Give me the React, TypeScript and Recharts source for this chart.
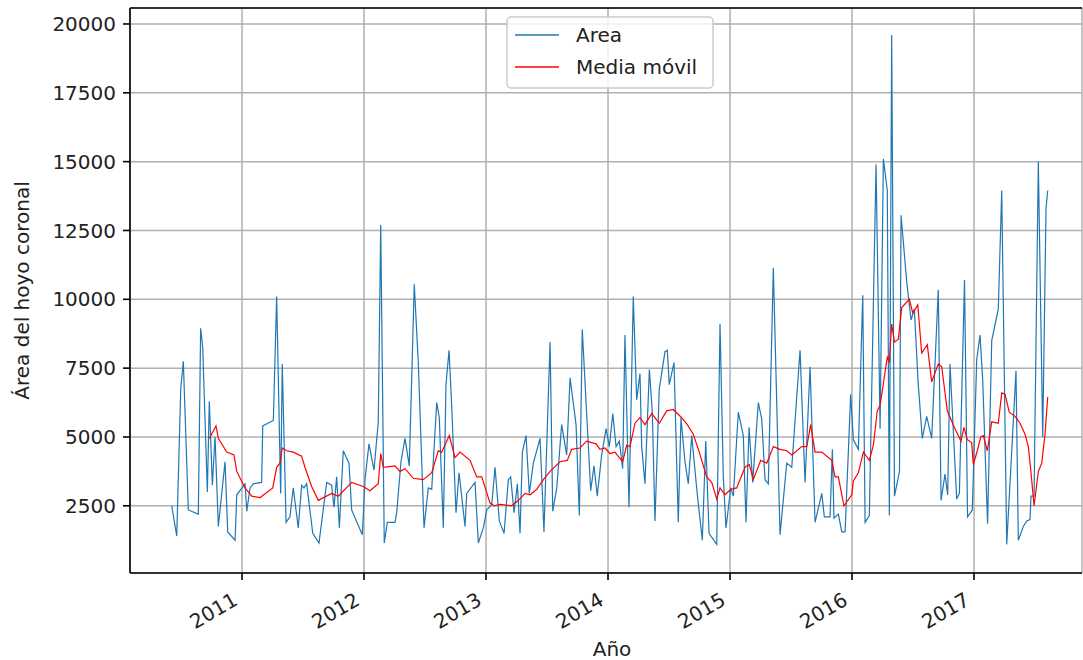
import React from 'react';
import {
  LineChart,
  Line,
  XAxis,
  YAxis,
  CartesianGrid,
  ReferenceLine,
} from 'recharts';

// fechas en años decimales, área del hoyo coronal
const areaYears = [
  2010.424, 2010.465, 2010.498, 2010.519, 2010.56, 2010.642, 2010.661, 2010.678, 2010.716, 2010.732,
  2010.757, 2010.779, 2010.806, 2010.861, 2010.883, 2010.943, 2010.957, 2011.025, 2011.039, 2011.066,
  2011.093, 2011.161, 2011.17, 2011.257, 2011.284, 2011.317, 2011.33, 2011.361, 2011.393, 2011.42,
  2011.461, 2011.489, 2011.508, 2011.53, 2011.58, 2011.631, 2011.694, 2011.735, 2011.754, 2011.776,
  2011.798, 2011.83, 2011.877, 2011.899, 2011.986, 2012.008, 2012.041, 2012.082, 2012.117, 2012.137,
  2012.166, 2012.191, 2012.254, 2012.268, 2012.303, 2012.336, 2012.371, 2012.412, 2012.445, 2012.492,
  2012.527, 2012.555, 2012.596, 2012.617, 2012.65, 2012.672, 2012.697, 2012.719, 2012.754, 2012.779,
  2012.828, 2012.842, 2012.91, 2012.937, 2012.978, 2013.006, 2013.047, 2013.074, 2013.109, 2013.148,
  2013.183, 2013.202, 2013.23, 2013.257, 2013.279, 2013.298, 2013.328, 2013.355, 2013.388, 2013.443,
  2013.475, 2013.525, 2013.547, 2013.58, 2013.62, 2013.661, 2013.689, 2013.738, 2013.765, 2013.789,
  2013.825, 2013.858, 2013.885, 2013.912, 2013.948, 2013.984, 2014.011, 2014.039, 2014.066, 2014.093,
  2014.12, 2014.139, 2014.172, 2014.207, 2014.235, 2014.262, 2014.276, 2014.303, 2014.339, 2014.363,
  2014.385, 2014.42, 2014.467, 2014.486, 2014.502, 2014.541, 2014.576, 2014.598, 2014.631, 2014.658,
  2014.686, 2014.732, 2014.773, 2014.801, 2014.828, 2014.891, 2014.918, 2014.945, 2014.967, 2015.006,
  2015.027, 2015.068, 2015.109, 2015.131, 2015.156, 2015.186, 2015.232, 2015.26, 2015.287, 2015.314,
  2015.355, 2015.41, 2015.465, 2015.506, 2015.574, 2015.615, 2015.656, 2015.697, 2015.752, 2015.773,
  2015.82, 2015.839, 2015.852, 2015.888, 2015.916, 2015.943, 2015.989, 2016.011, 2016.052, 2016.088,
  2016.107, 2016.142, 2016.197, 2016.23, 2016.257, 2016.289, 2016.306, 2016.325, 2016.348, 2016.389,
  2016.402, 2016.448, 2016.484, 2016.511, 2016.543, 2016.576, 2016.612, 2016.653, 2016.707, 2016.73,
  2016.762, 2016.784, 2016.803, 2016.858, 2016.88, 2016.922, 2016.947, 2016.986, 2017.022, 2017.049,
  2017.071, 2017.111, 2017.145, 2017.199, 2017.227, 2017.268, 2017.344, 2017.363, 2017.404, 2017.432,
  2017.459, 2017.467, 2017.492, 2017.527, 2017.563, 2017.59, 2017.604,
];

const areaValues = [
  2500, 1400, 6750, 7750, 2350, 2200, 8950, 8250, 3000, 6300,
  3250, 5000, 1750, 4100, 1550, 1250, 2900, 3300, 2300, 3150,
  3300, 3350, 5400, 5600, 10100, 2950, 7650, 1900, 2100, 3150,
  1700, 3250, 3150, 3300, 1500, 1150, 3350, 3250, 2450, 3550,
  1700, 4500, 4050, 2350, 1450, 3450, 4750, 3800, 5550, 12700,
  1150, 1900, 1900, 2250, 4100, 4950, 3950, 10550, 7700, 1700,
  3150, 3100, 6250, 5700, 1700, 6900, 8150, 6100, 2250, 3700,
  1750, 2950, 3350, 1150, 1700, 2350, 2550, 3900, 1950, 1500,
  3450, 3550, 2250, 3300, 1500, 4450, 5050, 2950, 4050, 4950,
  1550, 8450, 2300, 3150, 5450, 4350, 7150, 5450, 2150, 8900,
  5850, 3050, 3950, 2850, 4350, 5300, 4650, 5850, 4650, 4850,
  3850, 8700, 2450, 10100, 6350, 7300, 4650, 3300, 7450, 5900,
  1950, 6750, 8100, 8150, 6900, 7700, 1900, 5700, 4100, 3300,
  5050, 2900, 1250, 4850, 1500, 1100, 9100, 3550, 1700, 3150,
  2850, 5900, 5050, 1900, 5350, 3350, 6250, 5650, 3450, 3300,
  11150, 1450, 4050, 3900, 8150, 3350, 7550, 1900, 2950, 2100,
  2100, 4550, 2050, 2200, 1550, 1550, 6550, 4900, 4550, 10150,
  1900, 2150, 14900, 5300, 15100, 13950, 2150, 19600, 2850, 3750,
  13050, 10650, 9250, 9650, 6900, 4950, 5750, 4950, 10350, 2700,
  3650, 2900, 7650, 2750, 2950, 10700, 2100, 2350, 7800, 8700,
  7100, 1850, 8500, 9650, 13950, 1100, 7400, 1250, 1750, 1950,
  2000, 2850, 2850, 15000, 5000, 13300, 13950,
];

// media móvil
const mediaYears = [
  2010.732, 2010.787, 2010.806, 2010.875, 2010.934, 2010.957, 2011.025, 2011.08, 2011.148, 2011.252,
  2011.284, 2011.311, 2011.33, 2011.366, 2011.42, 2011.489, 2011.516, 2011.571, 2011.625, 2011.735,
  2011.789, 2011.899, 2011.994, 2012.049, 2012.117, 2012.137, 2012.158, 2012.254, 2012.295, 2012.336,
  2012.404, 2012.486, 2012.555, 2012.609, 2012.637, 2012.699, 2012.746, 2012.787, 2012.869, 2012.924,
  2012.965, 2013.033, 2013.066, 2013.115, 2013.211, 2013.265, 2013.32, 2013.361, 2013.416, 2013.47,
  2013.525, 2013.607, 2013.666, 2013.702, 2013.77, 2013.825, 2013.902, 2013.934, 2013.975, 2014.016,
  2014.057, 2014.084, 2014.12, 2014.153, 2014.18, 2014.221, 2014.262, 2014.303, 2014.358, 2014.42,
  2014.481, 2014.535, 2014.604, 2014.65, 2014.699, 2014.748, 2014.809, 2014.85, 2014.891, 2014.918,
  2014.959, 2015.006, 2015.055, 2015.123, 2015.158, 2015.191, 2015.252, 2015.301, 2015.355, 2015.41,
  2015.465, 2015.506, 2015.588, 2015.629, 2015.661, 2015.697, 2015.752, 2015.834, 2015.861, 2015.888,
  2015.934, 2015.998, 2016.011, 2016.052, 2016.093, 2016.142, 2016.175, 2016.207, 2016.23, 2016.289,
  2016.306, 2016.325, 2016.348, 2016.38, 2016.407, 2016.47, 2016.498, 2016.539, 2016.571, 2016.617,
  2016.653, 2016.707, 2016.735, 2016.781, 2016.844, 2016.893, 2016.918, 2016.945, 2016.981, 2016.994,
  2017.027, 2017.055, 2017.076, 2017.109, 2017.145, 2017.199, 2017.227, 2017.254, 2017.289, 2017.336,
  2017.377, 2017.418, 2017.445, 2017.465, 2017.492, 2017.527, 2017.555, 2017.582, 2017.604,
];

const mediaValues = [
  4950, 5400, 4950, 4450, 4350, 3750, 3150, 2850, 2800, 3150,
  3900, 4050, 4600, 4500, 4450, 4300, 3900, 3200, 2700, 2950,
  2850, 3350, 3200, 3050, 3300, 4400, 3900, 3950, 3750, 3850,
  3500, 3450, 3700, 4500, 4450, 5050, 4250, 4450, 4150, 3550,
  3550, 2600, 2500, 2550, 2500, 2700, 2950, 2900, 3100, 3450,
  3750, 4100, 4150, 4550, 4600, 4850, 4750, 4550, 4600, 4400,
  4450, 4300, 4100, 4700, 4650, 5500, 5700, 5450, 5850, 5500,
  5950, 6000, 5700, 5450, 5100, 4450, 3550, 3350, 2750, 3150,
  2900, 3100, 3150, 3900, 4000, 3450, 4150, 4050, 4650, 4550,
  4500, 4350, 4650, 4650, 5450, 4450, 4450, 4150, 3550, 3550,
  2500, 2900, 3400, 3700, 4450, 4150, 4700, 5950, 6150, 7900,
  7750, 9100, 8450, 8550, 9700, 10000, 9500, 9800, 8050, 8350,
  7000, 7650, 7550, 5950, 5300, 4850, 5350, 4900, 4800, 4000,
  4500, 5000, 5050, 4500, 5550, 5500, 6600, 6550, 5900, 5750,
  5500, 5100, 4650, 3800, 2500, 3750, 4050, 5100, 6450,
];

const yearTicks = [2011, 2012, 2013, 2014, 2015, 2016, 2017];
const valueTicks = [2500, 5000, 7500, 10000, 12500, 15000, 17500, 20000];
const seriesNames = ['Area', 'Media móvil'];
const seriesColors = ['#1f77b4', '#ff0000'];

const X_MIN = 2010.082;
const X_MAX = 2017.885;
const Y_MIN = 60;
const Y_MAX = 20580;

const areaData = areaYears.map((year, i) => ({ year, value: areaValues[i] }));
const mediaData = mediaYears.map((year, i) => ({ year, value: mediaValues[i] }));

const FONT = '"DejaVu Sans", Verdana, sans-serif';
const TEXT = '#222';

const YearTick = ({ x, y, payload }: any) => {
  const ax = x - 3;
  const ay = y + 22;
  return (
    <text
      x={ax}
      y={ay}
      textAnchor="end"
      transform={`rotate(-30, ${ax}, ${ay})`}
      fontSize={20}
      fontFamily={FONT}
      fill={TEXT}
    >
      {payload.value}
    </text>
  );
};

const Leyenda = () => (
  <svg
    width={208}
    height={73}
    style={{ position: 'absolute', left: 506, top: 16 }}
  >
    <rect x={1} y={1} width={206} height={71} rx={4} fill="rgba(255,255,255,0.8)" stroke="#cccccc" strokeWidth={1.5} />
    {seriesNames.map((name, i) => (
      <g key={name}>
        <line x1={9} x2={53} y1={19 + i * 32} y2={19 + i * 32} stroke={seriesColors[i]} strokeWidth={1.3} />
        <text x={70} y={26 + i * 32} fontSize={20} fontFamily={FONT} fill={TEXT}>
          {name}
        </text>
      </g>
    ))}
  </svg>
);

const App = () => {
  return (
    <div style={{ position: 'absolute', left: 0, top: 0, width: 1083, height: 660, background: '#fff', overflow: 'hidden' }}>
      <LineChart width={1083} height={660} margin={{ top: 8, right: 1, bottom: 0, left: 0 }}>
        <CartesianGrid stroke="#b0b0b0" strokeWidth={1.5} />
        <XAxis
          type="number"
          dataKey="year"
          domain={[X_MIN, X_MAX]}
          allowDataOverflow
          ticks={yearTicks}
          height={87}
          tickSize={7}
          tickMargin={2}
          tick={<YearTick />}
          axisLine={{ stroke: '#000', strokeWidth: 1.6 }}
          tickLine={{ stroke: '#000', strokeWidth: 1.6 }}
          label={{
            value: 'Año',
            content: ({ viewBox }: any) => (
              <text
                x={viewBox.x + 482}
                y={656}
                textAnchor="middle"
                fontSize={20}
                fontFamily={FONT}
                fill={TEXT}
              >
                Año
              </text>
            ),
          }}
        />
        <YAxis
          type="number"
          domain={[Y_MIN, Y_MAX]}
          allowDataOverflow
          ticks={valueTicks}
          width={130}
          tickSize={7}
          tickMargin={7}
          tick={{ fontSize: 20, fontFamily: FONT, fill: TEXT }}
          axisLine={{ stroke: '#000', strokeWidth: 1.6 }}
          tickLine={{ stroke: '#000', strokeWidth: 1.6 }}
          label={{
            value: 'Área del hoyo coronal',
            content: ({ viewBox }: any) => {
              const cx = 29;
              const cy = viewBox.y + viewBox.height / 2;
              return (
                <text
                  x={cx}
                  y={cy}
                  textAnchor="middle"
                  transform={`rotate(-90, ${cx}, ${cy})`}
                  fontSize={20}
                  fontFamily={FONT}
                  fill={TEXT}
                >
                  Área del hoyo coronal
                </text>
              );
            },
          }}
        />
        <ReferenceLine y={Y_MAX} stroke="#000" strokeWidth={1.6} />
        <Line
          data={areaData}
          dataKey="value"
          name={seriesNames[0]}
          type="linear"
          stroke={seriesColors[0]}
          strokeWidth={1.2}
          dot={false}
          isAnimationActive={false}
        />
        <Line
          data={mediaData}
          dataKey="value"
          name={seriesNames[1]}
          type="linear"
          stroke={seriesColors[1]}
          strokeWidth={1.2}
          dot={false}
          isAnimationActive={false}
        />
      </LineChart>
      <Leyenda />
    </div>
  );
};

export default App;
